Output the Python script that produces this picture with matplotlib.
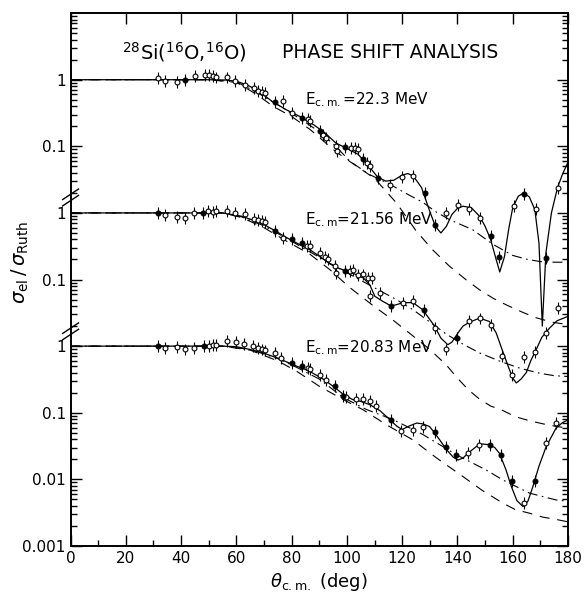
import numpy as np
import matplotlib
matplotlib.use("Agg")
import matplotlib.pyplot as plt
from matplotlib.ticker import FixedLocator, FixedFormatter, LogLocator, MultipleLocator

# --- E = 22.3 MeV (top) ---
top_fit_th = [0, 30, 50, 56, 60, 64, 68, 73, 78, 83, 88, 92, 96, 100, 104, 108, 111, 114, 117, 120, 122,
              124, 127, 130, 132, 134, 136, 138, 140, 142, 145, 148, 150, 152, 154, 155.3, 157, 158.5, 160,
              162, 164, 166, 168, 169.5, 170.7, 172, 174, 176.2, 178, 180]
top_fit = [1.0, 1.0, 1.0, 0.99, 0.95, 0.83, 0.68, 0.47, 0.355, 0.28, 0.21, 0.16, 0.112, 0.093, 0.076, 0.05,
           0.035, 0.030, 0.031, 0.037, 0.039, 0.036, 0.024, 0.0105, 0.0063, 0.005, 0.0063, 0.0095, 0.0117,
           0.0126, 0.012, 0.0089, 0.0063, 0.004, 0.002, 0.0013, 0.0022, 0.0056, 0.012, 0.0178, 0.02, 0.0174,
           0.0112, 0.0035, 0.0002, 0.0025, 0.010, 0.024, 0.038, 0.058]
top_dd_th = [0, 50, 60, 67, 75, 83, 90, 96, 101, 108, 115.5, 121, 127.4, 132, 137.2, 145.5, 152.7, 160, 165.4, 170, 175, 180]
top_dd = [1.0, 1.0, 0.93, 0.66, 0.42, 0.26, 0.166, 0.10, 0.060, 0.038, 0.027, 0.020, 0.0145, 0.0105, 0.0079,
          0.0056, 0.0034, 0.0023, 0.0020, 0.00186, 0.00182, 0.00182]
top_da_th = [0, 50, 60, 67.4, 73.2, 80, 86.6, 96, 103, 110, 118, 125, 131, 137, 143, 148, 153, 158, 163, 168, 174, 180]
top_da = [1.0, 1.0, 0.91, 0.60, 0.40, 0.28, 0.18, 0.083, 0.052, 0.033, 0.014, 0.0054, 0.0028, 0.0016, 0.001,
          0.0007, 0.00052, 0.00041, 0.00033, 0.00027, 0.00023, 0.00021]
top_open_th = [31.7, 34.2, 38.4, 45.0, 48.6, 50.1, 51.5, 52.8, 56.5, 59.5, 63.1, 66.3, 67.9, 69.1, 70.3, 76.9,
               80.0, 86.0, 86.6, 91.4, 92.6, 96.0, 96.4, 101.6, 102.8, 104.0, 107.1, 108.3, 115.6, 120.1,
               123.9, 136.0, 140.2, 144.0, 148.0, 160.3, 168.3, 176.3]
top_open = [1.05, 0.96, 0.93, 1.12, 1.17, 1.17, 1.14, 1.08, 1.08, 0.96, 0.83, 0.74, 0.68, 0.66, 0.63, 0.48,
            0.32, 0.26, 0.24, 0.15, 0.135, 0.10, 0.085, 0.093, 0.093, 0.090, 0.057, 0.050, 0.026, 0.035,
            0.036, 0.010, 0.013, 0.0113, 0.0085, 0.0126, 0.0116, 0.024]
top_full_th = [41.4, 73.9, 83.6, 90.2, 99.2, 105.8, 111.3, 128.1, 132.0, 152.2, 155.2, 164.0, 171.9]
top_full = [1.0, 0.46, 0.27, 0.17, 0.096, 0.064, 0.034, 0.0196, 0.0065, 0.0045, 0.0022, 0.019, 0.0021]

# --- E = 21.56 MeV (middle) ---
mid_fit_th = [0, 55, 62, 66, 69.7, 74, 78, 82, 86.6, 90, 94, 97, 100, 103, 106, 108.3, 110.1, 113, 116, 118,
              120.3, 123.9, 127.5, 131.7, 134, 136.5, 138, 140.2, 142, 144.4, 148, 151.6, 154, 156.4, 158.5,
              160, 161.3, 163, 164.9, 166.5, 168.5, 170.5, 173.3, 176, 180]
mid_fit = [1.0, 1.0, 0.89, 0.78, 0.68, 0.54, 0.43, 0.35, 0.28, 0.224, 0.17, 0.148, 0.133, 0.12, 0.105, 0.083,
           0.056, 0.047, 0.040, 0.042, 0.045, 0.045, 0.035, 0.020, 0.0132, 0.0105, 0.0115, 0.0158, 0.020,
           0.0229, 0.0263, 0.0234, 0.0158, 0.0083, 0.0048, 0.0033, 0.0028, 0.0032, 0.004, 0.006, 0.0089,
           0.0135, 0.0186, 0.024, 0.028]
mid_dd_th = [0, 55, 62, 69.6, 78, 86.6, 94, 101, 109, 117.9, 124, 130, 136, 142, 148, 156, 163, 170, 175, 180]
mid_dd = [1.0, 1.0, 0.87, 0.65, 0.42, 0.26, 0.174, 0.12, 0.079, 0.050, 0.035, 0.023, 0.0151, 0.0107, 0.0079,
          0.0058, 0.0046, 0.0039, 0.0036, 0.0035]
mid_da_th = [0, 55, 62, 70, 78, 86.6, 93.8, 101, 109, 117, 124, 130, 136, 140, 144, 148, 152, 156, 161, 166, 171, 176, 180]
mid_da = [1.0, 1.0, 0.85, 0.60, 0.38, 0.24, 0.141, 0.076, 0.042, 0.024, 0.0141, 0.0089, 0.0052, 0.0033,
          0.0022, 0.0016, 0.00126, 0.0011, 0.00087, 0.00076, 0.00068, 0.00062, 0.00059]
mid_open_th = [34.2, 38.4, 41.4, 44.7, 49.8, 51.6, 52.8, 56.5, 59.5, 63.1, 66.3, 67.9, 69.1, 70.3, 76.9, 85.4,
               86.6, 90.2, 92.0, 93.2, 95.6, 96.2, 101.0, 102.2, 104.0, 105.8, 107.6, 108.9, 108.3, 111.9,
               120.3, 124.0, 132.0, 136.0, 144.0, 148.0, 152.0, 156.1, 159.8, 164.0, 168.1, 172.1, 176.3]
mid_open = [0.92, 0.88, 0.85, 1.0, 1.06, 1.04, 1.06, 1.06, 1.0, 0.95, 0.80, 0.77, 0.75, 0.72, 0.42, 0.32,
            0.32, 0.25, 0.22, 0.20, 0.16, 0.126, 0.133, 0.14, 0.115, 0.119, 0.106, 0.106, 0.056, 0.063,
            0.045, 0.047, 0.019, 0.0089, 0.024, 0.026, 0.021, 0.0071, 0.0037, 0.0068, 0.0083, 0.016, 0.037]
mid_full_th = [31.7, 48.0, 73.9, 80.0, 83.6, 99.2, 116.1, 127.8, 140.0]
mid_full = [1.0, 1.0, 0.53, 0.40, 0.355, 0.133, 0.040, 0.035, 0.0133]

# --- E = 20.83 MeV (bottom) ---
bot_fit_th = [0, 55, 60, 65, 69.7, 75, 81.8, 86, 91.4, 95, 98.6, 102, 105, 108.3, 112, 115.5, 118, 120, 122.5,
              125.2, 127.5, 129.9, 131.7, 133.6, 136, 138.5, 140.2, 142, 144, 146.8, 149, 151.6, 153.5, 155.2,
              157.5, 159.5, 161.5, 163.7, 165.5, 167.3, 169.5, 172.1, 175.7, 178, 180]
bot_fit = [1.0, 1.0, 0.98, 0.89, 0.79, 0.66, 0.50, 0.43, 0.32, 0.25, 0.19, 0.158, 0.148, 0.132, 0.107, 0.079,
           0.063, 0.056, 0.063, 0.070, 0.068, 0.062, 0.050, 0.039, 0.028, 0.0214, 0.0195, 0.0209, 0.025,
           0.031, 0.034, 0.033, 0.030, 0.0245, 0.0141, 0.0078, 0.0048, 0.0039, 0.0047, 0.0078, 0.0158,
           0.031, 0.059, 0.071, 0.078]
bot_dd_th = [0, 55, 65, 75, 81.8, 90, 98.6, 107, 116.7, 127.5, 139.6, 150.4, 156.4, 166.1, 175.7, 180]
bot_dd = [1.0, 1.0, 0.89, 0.65, 0.48, 0.32, 0.17, 0.112, 0.079, 0.047, 0.0234, 0.0138, 0.0098, 0.0062,
          0.0049, 0.0047]
bot_da_th = [0, 55, 65, 75, 81.8, 90, 98.6, 105.8, 114.3, 123.9, 132.4, 142, 149, 156.4, 161, 166.1, 171, 175.7, 180]
bot_da = [1.0, 1.0, 0.87, 0.60, 0.42, 0.25, 0.158, 0.111, 0.066, 0.039, 0.021, 0.011, 0.0068, 0.0044,
          0.0035, 0.0031, 0.0027, 0.0025, 0.0023]
bot_open_th = [34.2, 38.4, 41.4, 44.7, 50.2, 51.6, 52.8, 56.5, 59.7, 62.8, 66.1, 67.8, 69.1, 70.3, 73.9, 76.3,
               86.0, 86.6, 90.2, 92.6, 99.8, 103.4, 105.8, 108.3, 110.7, 119.7, 123.8, 127.7, 143.8, 147.8,
               163.9, 172.1, 175.7]
bot_open = [0.94, 0.97, 0.89, 0.94, 1.02, 1.03, 1.05, 1.18, 1.14, 1.09, 1.0, 0.93, 0.89, 0.86, 0.79, 0.66,
            0.47, 0.45, 0.37, 0.31, 0.17, 0.16, 0.16, 0.148, 0.125, 0.054, 0.055, 0.062, 0.025, 0.033,
            0.0044, 0.035, 0.070]
bot_full_th = [31.7, 48.4, 80.0, 83.6, 95.6, 98.6, 115.8, 131.7, 136.0, 139.6, 151.6, 155.9, 159.8, 168.1]
bot_full = [1.0, 1.0, 0.56, 0.50, 0.25, 0.18, 0.079, 0.052, 0.031, 0.023, 0.033, 0.023, 0.0093, 0.0093]

# each set is shifted up on one log axis
shift_top = 1e4
shift_mid = 1e2
shift_bot = 1.0
err_factor = 1.23

ytick_vals = [1e-3, 1e-2, 1e-1, 1, 1e1, 1e2, 1e3, 1e4]
ytick_text = ["0.001", "0.01", "0.1", "1", "0.1", "1", "0.1", "1"]
energy_labels = [r"E$_{\rm c.m.}$=22.3 MeV", r"E$_{\rm c.m}$=21.56 MeV", r"E$_{\rm c.m}$=20.83 MeV"]

fig = plt.figure(figsize=(5.88, 5.96), dpi=100)
ax = fig.add_axes([0.12, 0.084, 0.846, 0.894])
ax.set_yscale("log")
ax.set_xlim(0, 180)
ax.set_ylim(1e-3, 1e5)

sets = [
    (shift_top, top_fit_th, top_fit, top_dd_th, top_dd, top_da_th, top_da, top_open_th, top_open, top_full_th, top_full),
    (shift_mid, mid_fit_th, mid_fit, mid_dd_th, mid_dd, mid_da_th, mid_da, mid_open_th, mid_open, mid_full_th, mid_full),
    (shift_bot, bot_fit_th, bot_fit, bot_dd_th, bot_dd, bot_da_th, bot_da, bot_open_th, bot_open, bot_full_th, bot_full),
]

for s, fth, fv, ddth, ddv, dath, dav, oth, ov, pth, pv in sets:
    ax.plot(fth, np.array(fv) * s, color="black", lw=0.9)
    ax.plot(ddth, np.array(ddv) * s, color="black", lw=0.8, dashes=(9, 4, 1.5, 4))
    ax.plot(dath, np.array(dav) * s, color="black", lw=0.8, dashes=(9, 7))
    for th, v, face in [(oth, ov, "white"), (pth, pv, "black")]:
        y = np.array(v) * s
        yerr = [y - y / err_factor, y * err_factor - y]
        ax.errorbar(th, y, yerr=yerr, fmt="o", ms=3.5, mfc=face, mec="black", mew=0.8,
                    ecolor="black", elinewidth=0.8, capsize=0, zorder=3)

# axis break marks on the left spine
trans = ax.get_yaxis_transform()
for yb in [10 ** 2.23, 10 ** 0.22]:
    for k in [0.9, 1.12]:
        ax.plot([-0.016, 0.016], [yb * k / 1.2, yb * k * 1.2], color="black", lw=1.0,
                transform=trans, clip_on=False)

ax.yaxis.set_major_locator(FixedLocator(ytick_vals))
ax.yaxis.set_major_formatter(FixedFormatter(ytick_text))
ax.yaxis.set_minor_locator(LogLocator(base=10, subs=np.arange(2, 10), numticks=20))
ax.yaxis.set_minor_formatter(plt.NullFormatter())
ax.xaxis.set_major_locator(MultipleLocator(20))
ax.xaxis.set_minor_locator(MultipleLocator(10))
ax.tick_params(which="both", direction="in", top=True, right=True, labelsize=11, width=1.0)
ax.tick_params(which="major", length=8)
ax.tick_params(which="minor", length=4)
ax.tick_params(axis="x", which="minor", top=False)
for sp in ax.spines.values():
    sp.set_linewidth(1.4)

ax.text(0.1035, 0.927, r"$^{28}$Si($^{16}$O,$^{16}$O)", transform=ax.transAxes, fontsize=14, va="center")
ax.text(0.425, 0.927, "PHASE SHIFT ANALYSIS", transform=ax.transAxes, fontsize=13.5, va="center")
for lab, yy in zip(energy_labels, [0.837, 0.613, 0.373]):
    ax.text(0.471, yy, lab, transform=ax.transAxes, fontsize=11, va="center")

ax.set_xlabel(r"$\theta_{\rm c.m.}$ (deg)", fontsize=13, labelpad=4)
fig.text(0.034, 0.56, r"$\sigma_{\rm el}\,/\,\sigma_{\rm Ruth}$", rotation=90, fontsize=14,
         ha="center", va="center")

fig.savefig("out.png", dpi=100)
